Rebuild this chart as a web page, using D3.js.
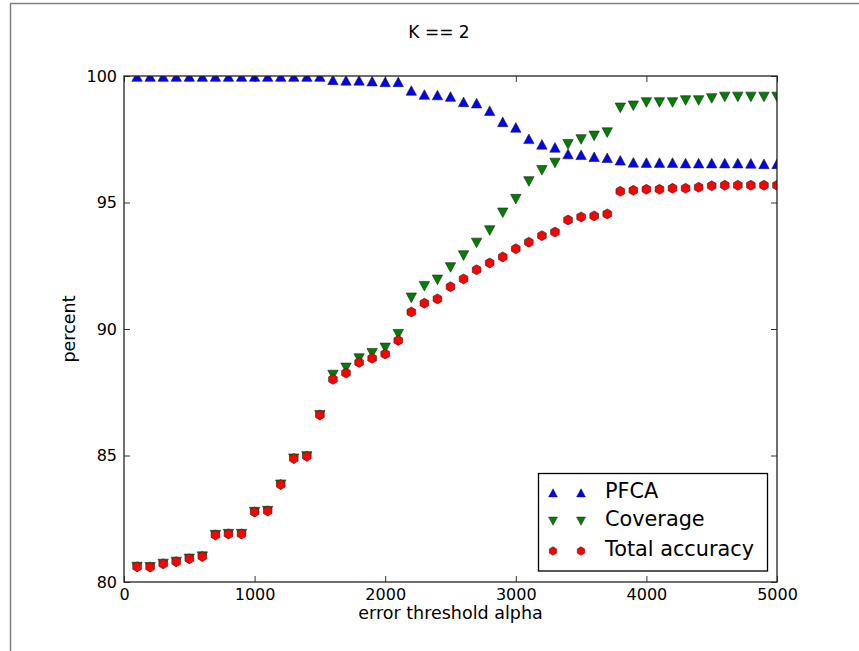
<!DOCTYPE html>
<html>
<head>
<meta charset="utf-8">
<script src="https://cdn.jsdelivr.net/npm/d3@7"></script>
<style>
  html, body { margin: 0; padding: 0; background: #fff; }
  svg { display: block; font-family: "DejaVu Sans", sans-serif; }
</style>
</head>
<body>
<svg id="chart" width="859" height="651"></svg>
<script>
// ---- data ----
const alphas = d3.range(1, 51).map(i => i * 100);
const pfca = [
  99.97, 99.97, 99.97, 99.97, 99.97, 99.97, 99.97, 99.97, 99.97, 99.97,
  99.97, 99.97, 99.97, 99.97, 99.97, 99.84, 99.82, 99.82, 99.79, 99.76,
  99.76, 99.42, 99.26, 99.24, 99.18, 98.97, 98.92, 98.62, 98.18, 97.96,
  97.51, 97.29, 97.17, 96.91, 96.88, 96.80, 96.76, 96.66, 96.58, 96.57,
  96.57, 96.57, 96.55, 96.55, 96.55, 96.55, 96.55, 96.54, 96.52, 96.52
];
const coverage = [
  80.60, 80.59, 80.72, 80.80, 80.92, 81.01, 81.86, 81.90, 81.90, 82.77,
  82.81, 83.85, 84.88, 84.97, 86.60, 88.19, 88.47, 88.84, 89.05, 89.26,
  89.80, 91.24, 91.70, 91.95, 92.44, 92.91, 93.41, 93.90, 94.60, 95.14,
  95.84, 96.28, 96.57, 97.31, 97.50, 97.64, 97.77, 98.75, 98.83, 98.96,
  98.96, 98.96, 99.04, 99.04, 99.12, 99.18, 99.18, 99.18, 99.18, 99.18
];
const totalAccuracy = [
  80.60, 80.59, 80.72, 80.80, 80.92, 81.01, 81.86, 81.90, 81.90, 82.77,
  82.81, 83.85, 84.88, 84.97, 86.60, 88.01, 88.26, 88.68, 88.84, 89.01,
  89.55, 90.67, 91.02, 91.19, 91.67, 91.98, 92.34, 92.61, 92.85, 93.17,
  93.43, 93.69, 93.83, 94.31, 94.43, 94.47, 94.55, 95.44, 95.48, 95.52,
  95.52, 95.56, 95.56, 95.60, 95.66, 95.68, 95.68, 95.68, 95.68, 95.68
];
const xTicks = [0, 1000, 2000, 3000, 4000, 5000];
const yTicks = [80, 85, 90, 95, 100];
const seriesNames = ["PFCA", "Coverage", "Total accuracy"];
const seriesColors = ["#0000ff", "#007f00", "#ff0000"];
const seriesShapes = ["triUp", "triDown", "hexagon"];
const titleText = "K == 2";
const xLabel = "error threshold alpha";
const yLabel = "percent";

// ---- layout ----
const W = 859, H = 651;
const m = { left: 124, right: 777, top: 76, bottom: 582 };
const svg = d3.select("#chart");

svg.append("rect").attr("width", W).attr("height", H).attr("fill", "#fff");
// outer frame of the screenshot
svg.append("rect").attr("x", 10.5).attr("y", 3.5).attr("width", 900).attr("height", 700)
  .attr("fill", "none").attr("stroke", "#7f7f7f").attr("stroke-width", 1.5);

const x = d3.scaleLinear().domain([0, 5000]).range([m.left, m.right]);
const y = d3.scaleLinear().domain([80, 100]).range([m.bottom, m.top]);

function shapePath(shape) {
  if (shape === "triUp") return "M0,-5L5.2,4.6L-5.2,4.6Z";
  if (shape === "triDown") return "M0,5L5.2,-4.6L-5.2,-4.6Z";
  const r = 5, pts = [];
  for (let k = 0; k < 6; k++) {
    const a = Math.PI / 2 + k * Math.PI / 3;
    pts.push([r * Math.cos(a), -r * Math.sin(a)]);
  }
  return "M" + pts.map(p => p[0].toFixed(2) + "," + p[1].toFixed(2)).join("L") + "Z";
}

svg.append("clipPath").attr("id", "plotclip").append("rect")
  .attr("x", m.left).attr("y", m.top).attr("width", m.right - m.left).attr("height", m.bottom - m.top);

const plot = svg.append("g").attr("clip-path", "url(#plotclip)");
const allSeries = [pfca, coverage, totalAccuracy];
allSeries.forEach((vals, si) => {
  plot.append("g").selectAll("path").data(alphas.map((a, i) => [a, vals[i]])).join("path")
    .attr("transform", d => `translate(${x(d[0])},${y(d[1])})`)
    .attr("d", shapePath(seriesShapes[si]))
    .attr("fill", seriesColors[si])
    .attr("stroke", "#222").attr("stroke-width", 0.6);
});

// axes (inward ticks, matplotlib classic)
const fontSize = 16;
const axB = svg.append("g").attr("transform", `translate(0,${m.bottom})`)
  .call(d3.axisBottom(x).tickValues(xTicks).tickSize(-6).tickPadding(6).tickFormat(d3.format("d")));
const axT = svg.append("g").attr("transform", `translate(0,${m.top})`)
  .call(d3.axisTop(x).tickValues(xTicks).tickSize(-6).tickFormat(""));
const axL = svg.append("g").attr("transform", `translate(${m.left},0)`)
  .call(d3.axisLeft(y).tickValues(yTicks).tickSize(-6).tickPadding(7).tickFormat(d3.format("d")));
const axR = svg.append("g").attr("transform", `translate(${m.right},0)`)
  .call(d3.axisRight(y).tickValues(yTicks).tickSize(-6).tickFormat(""));
[axB, axT, axL, axR].forEach(g => {
  g.select(".domain").remove();
  g.selectAll(".tick line").attr("stroke", "#000").attr("stroke-width", 0.8);
  g.selectAll("text").attr("font-size", fontSize).attr("font-family", "DejaVu Sans").attr("fill", "#000");
});
axB.selectAll("text").attr("dy", "0.78em");

svg.append("rect").attr("x", m.left).attr("y", m.top)
  .attr("width", m.right - m.left).attr("height", m.bottom - m.top)
  .attr("fill", "none").attr("stroke", "#222").attr("stroke-width", 1.3);

// labels
svg.append("text").attr("x", 439).attr("y", 38).attr("text-anchor", "middle")
  .attr("font-size", 17).text(titleText);
svg.append("text").attr("x", (m.left + m.right) / 2).attr("y", 619).attr("text-anchor", "middle")
  .attr("font-size", 17.5).text(xLabel);
svg.append("text").attr("transform", `translate(75,${(m.top + m.bottom) / 2}) rotate(-90)`)
  .attr("text-anchor", "middle").attr("font-size", 17.5).text(yLabel);

// legend
const lg = svg.append("g");
lg.append("rect").attr("x", 538.5).attr("y", 473.5).attr("width", 229).attr("height", 97.5)
  .attr("fill", "#fff").attr("stroke", "#000").attr("stroke-width", 1.3);
const rowY = [493, 521, 551];
seriesNames.forEach((name, i) => {
  [553, 581].forEach(mx => {
    lg.append("path").attr("transform", `translate(${mx},${rowY[i]}) scale(0.85)`)
      .attr("d", shapePath(seriesShapes[i]))
      .attr("fill", seriesColors[i]).attr("stroke", "#222").attr("stroke-width", 0.6);
  });
  lg.append("text").attr("x", 605).attr("y", rowY[i] + 5).attr("font-size", 20.8).text(name);
});
</script>
</body>
</html>
